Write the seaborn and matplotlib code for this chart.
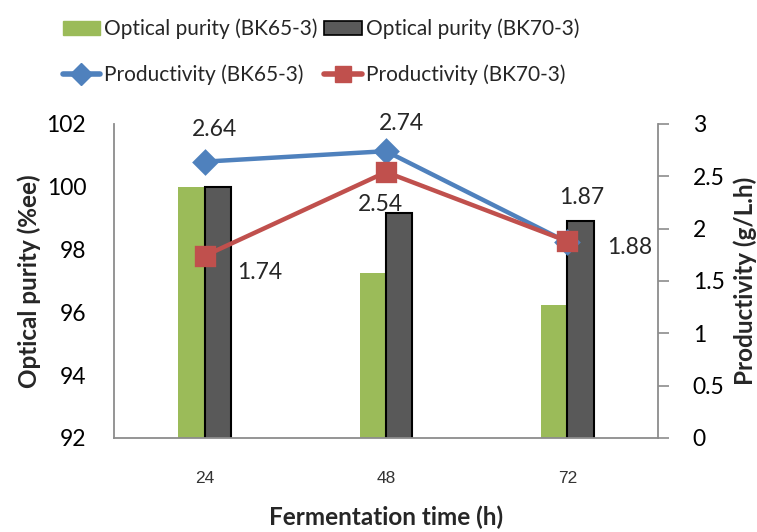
import matplotlib
matplotlib.use("Agg")
import matplotlib.pyplot as plt
import seaborn as sns
import pandas as pd
from matplotlib.lines import Line2D
from matplotlib.patches import Patch

times = ["24", "48", "72"]
purity_bk65 = [100.0, 97.25, 96.25]
purity_bk70 = [100.0, 99.15, 98.9]
prod_bk65 = [2.64, 2.74, 1.87]
prod_bk70 = [1.74, 2.54, 1.88]
left_ticks = [92, 94, 96, 98, 100, 102]
right_ticks = [0, 0.5, 1, 1.5, 2, 2.5, 3]
right_tick_labels = ["0", "0.5", "1", "1.5", "2", "2.5", "3"]

sns.set_theme(style="white")
plt.rcParams["font.family"] = ["Lato", "DejaVu Sans"]

bars = pd.DataFrame({
    "time": times * 2,
    "purity": purity_bk65 + purity_bk70,
    "strain": ["Optical purity (BK65-3)"] * 3 + ["Optical purity (BK70-3)"] * 3,
})
lines = pd.DataFrame({
    "time": times * 2,
    "prod": prod_bk65 + prod_bk70,
    "strain": ["Productivity (BK65-3)"] * 3 + ["Productivity (BK70-3)"] * 3,
})

GREEN = "#9BBB59"
DGRAY = "#595959"
BLUE = "#4F81BD"
RED = "#C0504D"
SPINE = "#8C8C8C"

fig = plt.figure(figsize=(7.57, 5.32), dpi=100)
ax = fig.add_axes([0.1506, 0.1767, 0.7186, 0.5903])

sns.barplot(data=bars, x="time", y="purity", hue="strain",
            palette=[GREEN, DGRAY], width=0.29, ax=ax, legend=False,
            saturation=1)
for p in ax.patches:
    fc = p.get_facecolor()
    if abs(fc[0] - 0x59 / 255) < 0.02:
        p.set_edgecolor("black")
        p.set_linewidth(1.5)
    else:
        p.set_linewidth(0)

ax.set_ylim(92, 102)
ax.set_yticks(left_ticks)
ax.set_yticklabels([str(t) for t in left_ticks])
ax.tick_params(axis="y", length=0, pad=20, labelsize=16.5, labelcolor="black")
ax.tick_params(axis="x", length=0, pad=24)
ax.set_xticks(range(len(times)))
ax.set_xticklabels(times, fontsize=12.5, color="#333333",
                   family=["Liberation Sans", "DejaVu Sans"])

ax2 = ax.twinx()
sns.pointplot(data=lines, x="time", y="prod", hue="strain",
              palette=[BLUE, RED], markers=["D", "s"], linestyles=["-", "-"],
              ax=ax2, legend=False, markersize=11, linewidth=3.2)
for ln in ax2.lines:
    if ln.get_marker() == "s":
        ln.set_markersize(12.5)
    elif ln.get_marker() == "D":
        ln.set_markersize(11)
ax2.set_ylim(0, 3)
ax2.set_yticks(right_ticks)
ax2.set_yticklabels(right_tick_labels)
ax2.tick_params(axis="y", length=8, width=1.2, color=SPINE, pad=17, labelsize=16.5,
                right=True, direction="out", labelcolor="black")
ax.set_xlim(-0.5, 2.5)
ax2.set_xlim(-0.5, 2.5)

for a in (ax, ax2):
    a.spines["top"].set_visible(False)
    for s in ("left", "right", "bottom"):
        a.spines[s].set_color(SPINE)
        a.spines[s].set_linewidth(1.3)
    a.grid(False)
ax.spines["right"].set_visible(False)
ax2.spines["left"].set_visible(False)
ax2.spines["bottom"].set_visible(False)

ax.set_xlabel("Fermentation time (h)", fontsize=17.5, fontweight="bold", labelpad=14)
ax.set_ylabel("Optical purity (%ee)", fontsize=17.5, fontweight="bold", labelpad=4)
ax2.set_ylabel("Productivity (g/L.h)", fontsize=17.5, fontweight="bold", labelpad=6)

# data labels (offsets in pixels from the data point)
offs65 = [(10, 32), (15, 28), (14, 45)]
offs70 = [(55, -17), (-6, -32), (62, -6)]
for i, v in enumerate(prod_bk65):
    ax2.annotate(f"{v:.2f}", (i, v), xytext=offs65[i], textcoords="offset pixels",
                 ha="center", va="center", fontsize=16.5)
for i, v in enumerate(prod_bk70):
    ax2.annotate(f"{v:.2f}", (i, v), xytext=offs70[i], textcoords="offset pixels",
                 ha="center", va="center", fontsize=16.5)

handles = [
    Patch(facecolor=GREEN, edgecolor=GREEN),
    Line2D([], [], color=BLUE, lw=4, marker="D", markersize=11),
    Patch(facecolor=DGRAY, edgecolor="black", linewidth=1.2),
    Line2D([], [], color=RED, lw=4, marker="s", markersize=12),
]
labels = ["Optical purity (BK65-3)", "Productivity (BK65-3)",
          "Optical purity (BK70-3)", "Productivity (BK70-3)"]
fig.legend(handles, labels, ncol=2, loc="upper left",
           bbox_to_anchor=(0.058, 1.0), frameon=False, fontsize=15,
           handlelength=1.8, handletextpad=0.2, columnspacing=0.3,
           labelspacing=1.2, borderaxespad=0.5)

fig.savefig("out.png", dpi=100)
